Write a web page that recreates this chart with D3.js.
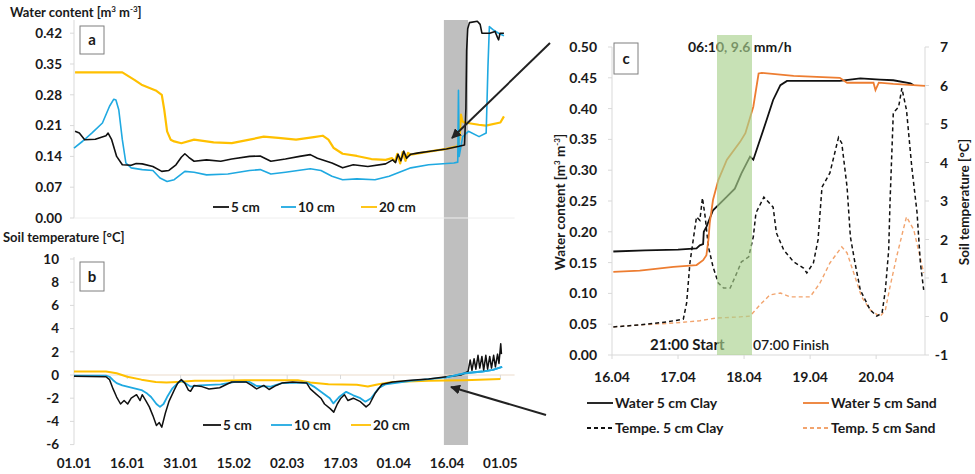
<!DOCTYPE html>
<html><head><meta charset="utf-8">
<script src="https://cdn.jsdelivr.net/npm/d3@7"></script>
<style>
body{margin:0;background:#fff}
svg{display:block}
text{font-family:Lato,'Open Sans',sans-serif;fill:#1a1a1a}
</style>
</head><body>
<svg id="chart" width="975" height="474"></svg>
<script>
// ---------- DATA ----------
// Panels a & b: x = days since 01.01
const tickLabelsAB = ["01.01","16.01","31.01","15.02","02.03","17.03","01.04","16.04","01.05"];
const tickDaysAB = [0,15,30,45,60,75,90,105,120];
const waterTicks = [0,0.07,0.14,0.21,0.28,0.35,0.42];
const tempTicks = [-6,-4,-2,0,2,4,6,8,10];
const greyBand = [104.1,110.9];

const water5 = [[0.3,0.197],[1.5,0.193],[3,0.178],[6,0.179],[9,0.187],[9.6,0.193],[10.6,0.178],[12,0.14],[13.6,0.121],[16.1,0.12],[17.5,0.124],[19.2,0.123],[22.2,0.117],[24.7,0.106],[26.7,0.108],[28.7,0.121],[30.2,0.138],[31.2,0.146],[32.3,0.138],[33.8,0.129],[37.3,0.132],[41.3,0.129],[44.4,0.134],[49.4,0.14],[52.4,0.141],[55.4,0.129],[59.5,0.134],[63.5,0.14],[66.5,0.144],[68.5,0.136],[72.6,0.125],[75.6,0.114],[78.6,0.121],[82.7,0.117],[87.7,0.123],[89.7,0.132],[90.5,0.126],[91.2,0.145],[92,0.13],[92.8,0.152],[93.6,0.136],[94.8,0.145],[97,0.148],[99.8,0.151],[104.8,0.157],[108.4,0.163],[109.9,0.166],[110.3,0.25],[110.5,0.38],[110.8,0.43],[111.3,0.444],[113.5,0.447],[114.3,0.44],[114.8,0.42],[117,0.42],[118.5,0.424],[119.2,0.41],[119.5,0.405],[119.9,0.42],[121,0.42]];
const water10 = [[0,0.159],[2.5,0.175],[5,0.193],[8,0.216],[10,0.254],[11.2,0.27],[11.8,0.268],[12.6,0.246],[13.6,0.178],[14.6,0.125],[16.1,0.114],[19.2,0.11],[22.2,0.108],[24.2,0.091],[26.2,0.083],[28.2,0.087],[31.2,0.106],[33.8,0.104],[37.3,0.098],[43.3,0.1],[49.4,0.108],[52.4,0.11],[55.4,0.1],[59.5,0.104],[66.5,0.112],[69.5,0.108],[72.6,0.095],[75.6,0.087],[79.6,0.089],[84.7,0.087],[88.7,0.095],[94.8,0.114],[99.8,0.121],[106.9,0.125],[108,0.127],[108.2,0.29],[108.4,0.14],[109.4,0.185],[111,0.197],[114,0.185],[116,0.193],[116.5,0.344],[116.9,0.435],[117.9,0.428],[119.5,0.42],[121,0.414]];
const water20 = [[0.3,0.331],[13.6,0.331],[17,0.314],[19,0.303],[23,0.29],[24.7,0.28],[25.4,0.246],[26.2,0.197],[27.2,0.178],[28.2,0.174],[30.2,0.17],[33.8,0.178],[39.3,0.172],[44.4,0.17],[49.4,0.178],[53.4,0.185],[57.5,0.182],[62.5,0.178],[67.5,0.184],[70,0.187],[71.6,0.178],[73.1,0.159],[75.6,0.146],[79.6,0.141],[83.7,0.134],[87.7,0.132],[89.5,0.136],[90.3,0.128],[91,0.146],[91.8,0.124],[92.5,0.15],[93.3,0.13],[94,0.148],[94.8,0.144],[99.8,0.151],[104.8,0.157],[107.9,0.163],[108.5,0.18],[108.9,0.235],[109.3,0.22],[109.9,0.217],[113.9,0.212],[115.9,0.21],[120,0.217],[121,0.231]];

const temp5 = [[0,-0.1],[9,-0.15],[10,-0.4],[11,-1.2],[12,-1.9],[13.1,-2.5],[14.1,-2.2],[15.1,-2.5],[16.1,-2.0],[17.6,-1.7],[18.6,-2.2],[19.2,-1.7],[20.2,-2.2],[21.2,-2.75],[22.2,-3.5],[23.2,-4.35],[24,-4.1],[24.7,-4.5],[25.7,-3.3],[26.7,-2.3],[28.2,-1.3],[29.2,-0.7],[30.2,-0.4],[31.2,-0.7],[32.2,-1.3],[32.8,-1.4],[33.8,-0.9],[36,-1.0],[38,-1.2],[41,-1.1],[43,-0.8],[44.4,-0.6],[48.4,-0.6],[50,-0.9],[51.4,-1.2],[53.4,-0.9],[54.9,-1.25],[56.9,-0.9],[58.5,-0.7],[61.5,-0.6],[65.5,-0.7],[66.5,-1.2],[68,-1.6],[69.5,-2.0],[70.5,-2.5],[72.1,-2.9],[73.1,-3.2],[74.1,-2.5],[75.1,-2.0],[76.1,-1.7],[77.1,-2.2],[78.6,-2.0],[80.6,-2.3],[82.2,-2.75],[83.2,-2.5],[84.7,-1.6],[86.7,-0.8],[89.7,-0.6],[94.8,-0.45],[99.8,-0.35],[104.8,-0.15],[108.9,0],[110.9,0.3],[111.5,1.3],[112,0.4],[112.6,1.4],[113.1,0.5],[113.7,1.7],[114.2,0.6],[114.8,1.6],[115.3,0.4],[115.9,1.7],[116.4,0.5],[117,1.6],[117.5,0.6],[118.1,1.7],[118.6,0.7],[119.2,1.8],[119.6,1.0],[120.1,2.7],[120.3,1.8]];
const temp10 = [[0,-0.05],[9,-0.05],[10,-0.15],[11,-0.45],[12,-0.7],[13.6,-0.9],[15,-1.0],[17,-1.15],[19,-1.3],[20.6,-1.6],[21.7,-1.9],[23.2,-2.5],[24.2,-2.75],[25.2,-2.5],[26.2,-1.9],[27.7,-1.15],[29.2,-0.7],[30.2,-0.5],[32.8,-1.0],[35.3,-0.9],[41.3,-0.8],[45.4,-0.6],[49.4,-0.6],[51.4,-0.95],[55.4,-1.0],[58.5,-0.7],[65.5,-0.65],[67.5,-1.0],[69.5,-1.45],[72,-2.0],[73,-2.45],[74.6,-1.9],[76.6,-1.45],[78.6,-1.75],[80.6,-2.0],[82,-2.3],[83.6,-2.0],[85.7,-1.15],[87.7,-0.8],[94.8,-0.5],[104.8,-0.2],[109.9,0.15],[114.9,0.3],[117.9,0.45],[120.5,0.7]];
const temp20 = [[0,0.3],[9,0.3],[12,0.15],[15,-0.15],[19,-0.4],[23,-0.6],[26,-0.65],[29,-0.6],[34,-0.5],[41,-0.5],[48,-0.45],[55,-0.45],[63,-0.45],[66.5,-0.65],[71.6,-0.8],[79.6,-0.85],[82.7,-1.0],[85.7,-0.8],[89.7,-0.6],[99.8,-0.5],[109.9,-0.45],[120,-0.35]];

// Panel c: x = days since 16.04 00:00
const tickLabelsC = ["16.04","17.04","18.04","19.04","20.04"];
const waterTicksC = [0,0.05,0.1,0.15,0.2,0.25,0.3,0.35,0.4,0.45,0.5];
const tempTicksC = [-1,0,1,2,3,4,5,6,7];
const rainBand = [1.59,2.12];

const waterClay = [[0.02,0.168],[0.5,0.17],[1.0,0.171],[1.28,0.173],[1.33,0.178],[1.38,0.18],[1.39,0.2],[1.43,0.208],[1.53,0.235],[1.74,0.257],[1.86,0.27],[1.96,0.295],[2.09,0.322],[2.14,0.317],[2.24,0.349],[2.34,0.381],[2.44,0.414],[2.55,0.438],[2.65,0.445],[3.45,0.445],[3.76,0.449],[4.06,0.447],[4.26,0.446],[4.52,0.441],[4.57,0.438]];
const waterSand = [[0.02,0.135],[0.42,0.137],[0.93,0.143],[1.28,0.146],[1.38,0.154],[1.43,0.162],[1.46,0.187],[1.48,0.214],[1.53,0.252],[1.61,0.284],[1.74,0.317],[1.94,0.346],[2.02,0.36],[2.14,0.403],[2.22,0.457],[2.27,0.458],[2.75,0.453],[3.45,0.45],[3.56,0.442],[3.96,0.442],[3.99,0.43],[4.04,0.442],[4.26,0.44],[4.74,0.437]];
const tempClay = [[0.02,-0.27],[0.42,-0.22],[0.83,-0.14],[1.08,-0.07],[1.13,0.35],[1.18,1.39],[1.23,1.99],[1.28,2.59],[1.33,2.5],[1.37,3.08],[1.41,2.6],[1.46,1.81],[1.53,1.29],[1.61,0.87],[1.69,0.74],[1.79,0.74],[1.89,1.13],[1.96,1.42],[2.07,1.55],[2.14,2.07],[2.18,2.69],[2.3,3.1],[2.44,2.84],[2.49,2.17],[2.6,1.73],[2.75,1.42],[2.9,1.26],[2.95,1.13],[3.05,1.39],[3.12,1.99],[3.18,3.36],[3.3,3.73],[3.43,4.65],[3.48,4.5],[3.56,3.36],[3.61,2.07],[3.68,1.39],[3.76,0.69],[3.91,0.17],[4.01,0.01],[4.09,0.09],[4.14,0.69],[4.19,1.73],[4.21,2.95],[4.26,5.29],[4.34,5.44],[4.39,5.93],[4.46,5.36],[4.54,3.88],[4.62,2.69],[4.67,1.39],[4.72,0.69]];
const tempSand = [[0.02,-0.27],[0.42,-0.22],[0.93,-0.17],[1.33,-0.11],[1.58,-0.04],[1.94,-0.01],[2.09,0.01],[2.24,0.3],[2.39,0.56],[2.55,0.61],[2.7,0.51],[3.0,0.51],[3.15,0.87],[3.3,1.39],[3.48,1.81],[3.56,1.65],[3.68,1.03],[3.78,0.51],[3.91,0.17],[4.06,0.0],[4.14,0.17],[4.21,0.77],[4.31,1.55],[4.41,2.25],[4.46,2.59],[4.57,2.25],[4.64,1.73],[4.72,1.13]];

// ---------- DRAW ----------
const svg = d3.select("#chart");
const C = {black:"#111", blue:"#1fa9e1", gold:"#ffc000", orange:"#ed7d31", lorange:"#f2a46e", axis:"#d9d9d9", band:"#bfbfbf", green:"#a9d18e"};

const xAB = d3.scaleLinear().domain([0,124]).range([74,514.6]);
const yA = d3.scaleLinear().domain([0,0.45]).range([218,20]);
const yB = d3.scaleLinear().domain([-6,10]).range([444.6,259]);
const xC = d3.scaleLinear().domain([0,4.74]).range([612,925]);
const yCL = d3.scaleLinear().domain([0,0.5]).range([355,47]);
const yCR = d3.scaleLinear().domain([-1,7]).range([355,47]);

// grey band across a and b
svg.append("rect").attr("x",xAB(greyBand[0])).attr("y",20)
  .attr("width",xAB(greyBand[1])-xAB(greyBand[0])).attr("height",445-20).attr("fill",C.band);

// ---- panel a axes
const gA = svg.append("g");
gA.append("line").attr("x1",xAB(0)).attr("x2",xAB(0)).attr("y1",yA(0.45)).attr("y2",yA(0)).attr("stroke",C.axis);
gA.append("line").attr("x1",xAB(0)).attr("x2",xAB(124)).attr("y1",yA(0)).attr("y2",yA(0)).attr("stroke","#eeeeee");
waterTicks.forEach(t=>{
  gA.append("line").attr("x1",xAB(0)-4).attr("x2",xAB(0)).attr("y1",yA(t)).attr("y2",yA(t)).attr("stroke",C.axis);
  gA.append("text").attr("x",62).attr("y",yA(t)).attr("dy","0.36em").attr("text-anchor","end")
    .attr("font-size",13.5).attr("font-weight","bold").text(d3.format(".2f")(t));
});
svg.append("text").attr("x",10).attr("y",17).attr("font-size",13).attr("font-weight","bold")
  .html('Water content [m<tspan font-size="8" dy="-5">3</tspan><tspan dy="5"> m</tspan><tspan font-size="8" dy="-5">-3</tspan><tspan dy="5">]</tspan>');

// ---- panel b axes
const gB = svg.append("g");
gB.append("line").attr("x1",xAB(0)).attr("x2",xAB(0)).attr("y1",yB(10)-2).attr("y2",yB(-6)).attr("stroke",C.axis);
gB.append("line").attr("x1",xAB(0)).attr("x2",xAB(124)).attr("y1",yB(0)).attr("y2",yB(0)).attr("stroke","#ecdccb").attr("stroke-width",1.2);
tempTicks.forEach(t=>{
  gB.append("line").attr("x1",xAB(0)-4).attr("x2",xAB(0)).attr("y1",yB(t)).attr("y2",yB(t)).attr("stroke",C.axis);
  gB.append("text").attr("x",59).attr("y",yB(t)).attr("dy","0.36em").attr("text-anchor","end")
    .attr("font-size",13.5).attr("font-weight","bold").text(t);
});
tickDaysAB.forEach((d,i)=>{
  gB.append("line").attr("x1",xAB(d)).attr("x2",xAB(d)).attr("y1",yB(0)).attr("y2",yB(0)+4).attr("stroke",C.axis);
  gB.append("text").attr("x",xAB(d)).attr("y",463).attr("dy","0.36em").attr("text-anchor","middle")
    .attr("font-size",13.5).attr("font-weight","bold").text(tickLabelsAB[i]);
});
svg.append("text").attr("x",3).attr("y",242).attr("font-size",13).attr("font-weight","bold").text("Soil temperature [°C]");

// ---- lines a & b
const lineA = d3.line().x(d=>xAB(d[0])).y(d=>yA(d[1]));
const lineB = d3.line().x(d=>xAB(d[0])).y(d=>yB(d[1]));
[[water20,C.gold,2.2],[water10,C.blue,1.6],[water5,C.black,1.6]].forEach(([d,c,w])=>
  svg.append("path").attr("d",lineA(d)).attr("fill","none").attr("stroke",c).attr("stroke-width",w).attr("stroke-linejoin","round"));
[[temp20,C.gold,2],[temp10,C.blue,1.8],[temp5,C.black,1.5]].forEach(([d,c,w])=>
  svg.append("path").attr("d",lineB(d)).attr("fill","none").attr("stroke",c).attr("stroke-width",w).attr("stroke-linejoin","round"));
svg.append("path").attr("d",lineB(temp10.filter(p=>p[0]>100))).attr("fill","none").attr("stroke",C.blue).attr("stroke-width",1.8);

// panel labels (boxes)
function boxLabel(x,y,w,h,t){
  svg.append("rect").attr("x",x).attr("y",y).attr("width",w).attr("height",h).attr("fill","#fff").attr("stroke","#7f7f7f").attr("stroke-width",1);
  svg.append("text").attr("x",x+w/2).attr("y",y+h/2).attr("dy","0.36em").attr("text-anchor","middle").attr("font-size",15).attr("font-weight","bold").text(t);
}
boxLabel(80,26,24,28,"a");
boxLabel(80,262,24,29,"b");
boxLabel(614,43,24,31,"c");

// legends a & b
function legendAB(y,items){
  items.forEach(it=>{
    svg.append("line").attr("x1",it.x1).attr("x2",it.x2).attr("y1",y).attr("y2",y).attr("stroke",it.c).attr("stroke-width",1.8);
    svg.append("text").attr("x",it.x2+2).attr("y",y).attr("dy","0.36em").attr("font-size",13.5).attr("font-weight","bold").text(it.t);
  });
}
legendAB(207,[{x1:213,x2:229,c:C.black,t:"5 cm"},{x1:281,x2:296,c:C.blue,t:"10 cm"},{x1:361,x2:377,c:C.gold,t:"20 cm"}]);
legendAB(425,[{x1:203,x2:221,c:C.black,t:"5 cm"},{x1:271,x2:292,c:C.blue,t:"10 cm"},{x1:351,x2:371,c:C.gold,t:"20 cm"}]);

// ---- panel c
const gC = svg.append("g");
gC.append("line").attr("x1",xC(0)).attr("x2",xC(0)).attr("y1",yCL(0.5)).attr("y2",yCL(0)).attr("stroke",C.axis);
gC.append("line").attr("x1",xC(4.74)).attr("x2",xC(4.74)).attr("y1",yCL(0.5)).attr("y2",yCL(0)).attr("stroke",C.axis);
gC.append("line").attr("x1",xC(0)).attr("x2",xC(4.74)).attr("y1",yCL(0)).attr("y2",yCL(0)).attr("stroke",C.axis);
waterTicksC.forEach(t=>{
  gC.append("line").attr("x1",xC(0)-4).attr("x2",xC(0)).attr("y1",yCL(t)).attr("y2",yCL(t)).attr("stroke",C.axis);
  gC.append("text").attr("x",597).attr("y",yCL(t)).attr("dy","0.36em").attr("text-anchor","end")
    .attr("font-size",14).attr("font-weight","bold").text(d3.format(".2f")(t));
});
tempTicksC.forEach(t=>{
  gC.append("line").attr("x1",xC(4.74)).attr("x2",xC(4.74)+4).attr("y1",yCR(t)).attr("y2",yCR(t)).attr("stroke",C.axis);
  gC.append("text").attr("x",948).attr("y",yCR(t)).attr("dy","0.36em").attr("text-anchor","end")
    .attr("font-size",14).attr("font-weight","bold").text(t);
});
tickLabelsC.forEach((l,i)=>{
  gC.append("line").attr("x1",xC(i)).attr("x2",xC(i)).attr("y1",yCL(0)).attr("y2",yCL(0)+4).attr("stroke",C.axis);
  gC.append("text").attr("x",xC(i)).attr("y",377).attr("dy","0.36em").attr("text-anchor","middle")
    .attr("font-size",14).attr("font-weight","bold").text(l);
});
svg.append("text").attr("transform","translate(565,202) rotate(-90)").attr("text-anchor","middle")
  .attr("font-size",13.5).attr("font-weight","bold")
  .html('Water content [m<tspan font-size="8" dy="-5">3</tspan><tspan dy="5"> m</tspan><tspan font-size="8" dy="-5">-3</tspan><tspan dy="5">]</tspan>');
svg.append("text").attr("transform","translate(969,202) rotate(-90)").attr("text-anchor","middle")
  .attr("font-size",13.5).attr("font-weight","bold").text("Soil temperature [°C]");

const lineCL = d3.line().x(d=>xC(d[0])).y(d=>yCL(d[1]));
const lineCR = d3.line().x(d=>xC(d[0])).y(d=>yCR(d[1]));
svg.append("path").attr("d",lineCR(tempSand)).attr("fill","none").attr("stroke",C.lorange).attr("stroke-width",1.4).attr("stroke-dasharray","4,3");
svg.append("path").attr("d",lineCR(tempClay)).attr("fill","none").attr("stroke",C.black).attr("stroke-width",1.5).attr("stroke-dasharray","4,3");
svg.append("path").attr("d",lineCL(waterClay)).attr("fill","none").attr("stroke",C.black).attr("stroke-width",1.8);
svg.append("path").attr("d",lineCL(waterSand)).attr("fill","none").attr("stroke",C.orange).attr("stroke-width",1.8);

// annotations (under the band so they get tinted)
svg.append("text").attr("x",688).attr("y",47).attr("dy","0.36em").attr("font-size",14).attr("font-weight","bold").text("06:10, 9.6 mm/h");
svg.append("text").attr("x",650).attr("y",345).attr("dy","0.36em").attr("font-size",15).attr("font-weight","bold").text("21:00 Start");
svg.append("text").attr("x",753).attr("y",345).attr("dy","0.36em").attr("font-size",14).attr("font-weight","600").text("07:00 Finish");

// rain band (semi-transparent over)
svg.append("rect").attr("x",xC(rainBand[0])).attr("y",35).attr("width",xC(rainBand[1])-xC(rainBand[0]))
  .attr("height",yCL(0)-35).attr("fill",C.green).attr("opacity",0.65);

// legend c
const legC = [
  {x:587,y:403,c:C.black,dash:null,t:"Water 5 cm Clay"},
  {x:803,y:403,c:C.orange,dash:null,t:"Water 5 cm Sand"},
  {x:587,y:428,c:C.black,dash:"4,3",t:"Tempe. 5 cm Clay"},
  {x:803,y:428,c:C.lorange,dash:"4,3",t:"Temp. 5 cm Sand"}];
legC.forEach(l=>{
  svg.append("line").attr("x1",l.x).attr("x2",l.x+26).attr("y1",l.y).attr("y2",l.y).attr("stroke",l.c)
    .attr("stroke-width",1.8).attr("stroke-dasharray",l.dash);
  svg.append("text").attr("x",l.x+28).attr("y",l.y).attr("dy","0.36em").attr("font-size",14).attr("font-weight","bold").text(l.t);
});

// arrows
const defs = svg.append("defs");
defs.append("marker").attr("id","ah").attr("viewBox","0 0 10 10").attr("refX",9).attr("refY",5)
  .attr("markerWidth",5).attr("markerHeight",5).attr("orient","auto")
  .append("path").attr("d","M0,0L10,5L0,10z").attr("fill","#222");
svg.append("line").attr("x1",550).attr("y1",43).attr("x2",452).attr("y2",138).attr("stroke","#222").attr("stroke-width",2).attr("marker-end","url(#ah)");
svg.append("line").attr("x1",546).attr("y1",415).attr("x2",451).attr("y2",387).attr("stroke","#222").attr("stroke-width",2).attr("marker-end","url(#ah)");
</script>
</body></html>
